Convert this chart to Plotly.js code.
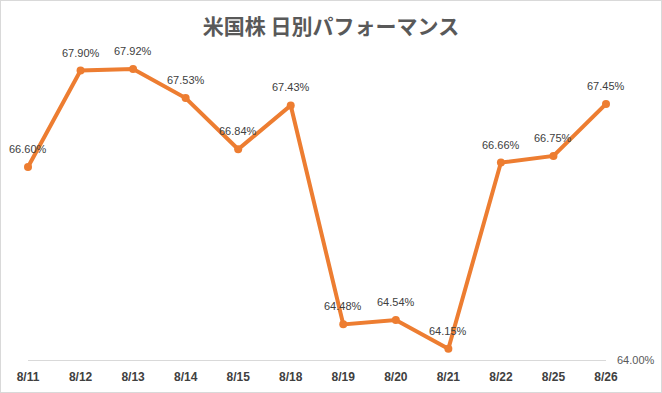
<!DOCTYPE html>
<html>
<head>
<meta charset="utf-8">
<script src="https://cdn.plot.ly/plotly-3.0.1.min.js"></script>
<style>
html,body{margin:0;padding:0;background:#fff;}
#chart{width:662px;height:393px;box-sizing:border-box;border:1px solid #d9d9d9;}
</style>
</head>
<body>
<div id="chart"></div>
<script>
const dates = ["8/11","8/12","8/13","8/14","8/15","8/18","8/19","8/20","8/21","8/22","8/25","8/26"];
const values = [66.60,67.90,67.92,67.53,66.84,67.43,64.48,64.54,64.15,66.66,66.75,67.45];
const chartTitle = "米国株 日別パフォーマンス";

const idx = dates.map((d,i)=>i);
const trace = {
  x: idx, y: values, type: 'scatter', mode: 'lines+markers',
  line: {color: '#ED7D31', width: 4},
  marker: {color: '#ED7D31', size: 8},
  cliponaxis: false, hoverinfo: 'skip'
};
const annotations = values.map((v,i)=>({
  x: i, y: v, xref: 'x', yref: 'y', text: v.toFixed(2) + '%',
  showarrow: false, yshift: 18,
  font: {family: 'Liberation Sans, Arial, sans-serif', size: 11, color: '#404040'}
}));
const layout = {
  width: 660, height: 391,
  margin: {l: 27, r: 55, t: 25, b: 32},
  paper_bgcolor: '#fff', plot_bgcolor: '#fff',
  showlegend: false,
  title: {text: chartTitle, x: 0.5, xanchor: 'center', y: 1 - 26/391, yanchor: 'middle', yref: 'container',
    font: {family: 'Noto Sans CJK JP, sans-serif', size: 21, color: '#595959', weight: 'bold'}},
  xaxis: {
    range: [0, 11], tickmode: 'array', tickvals: idx, ticktext: dates.map(d=>'<b>'+d+'</b>'),
    showgrid: false, zeroline: false, showline: true, linecolor: '#d9d9d9', linewidth: 1,
    ticks: '', ticklabelstandoff: 6,
    tickfont: {family: 'Liberation Sans, Arial, sans-serif', size: 12, color: '#404040'}
  },
  yaxis: {
    range: [64, 68.5], side: 'right', tickmode: 'array', tickvals: [64], ticktext: ['64.00%'],
    showgrid: false, zeroline: false, showline: false, ticks: '', ticklabelstandoff: 10,
    tickfont: {family: 'Liberation Sans, Arial, sans-serif', size: 11, color: '#595959'}
  },
  annotations: annotations
};
Plotly.newPlot('chart', [trace], layout, {displayModeBar: false, staticPlot: true});
</script>
</body>
</html>
